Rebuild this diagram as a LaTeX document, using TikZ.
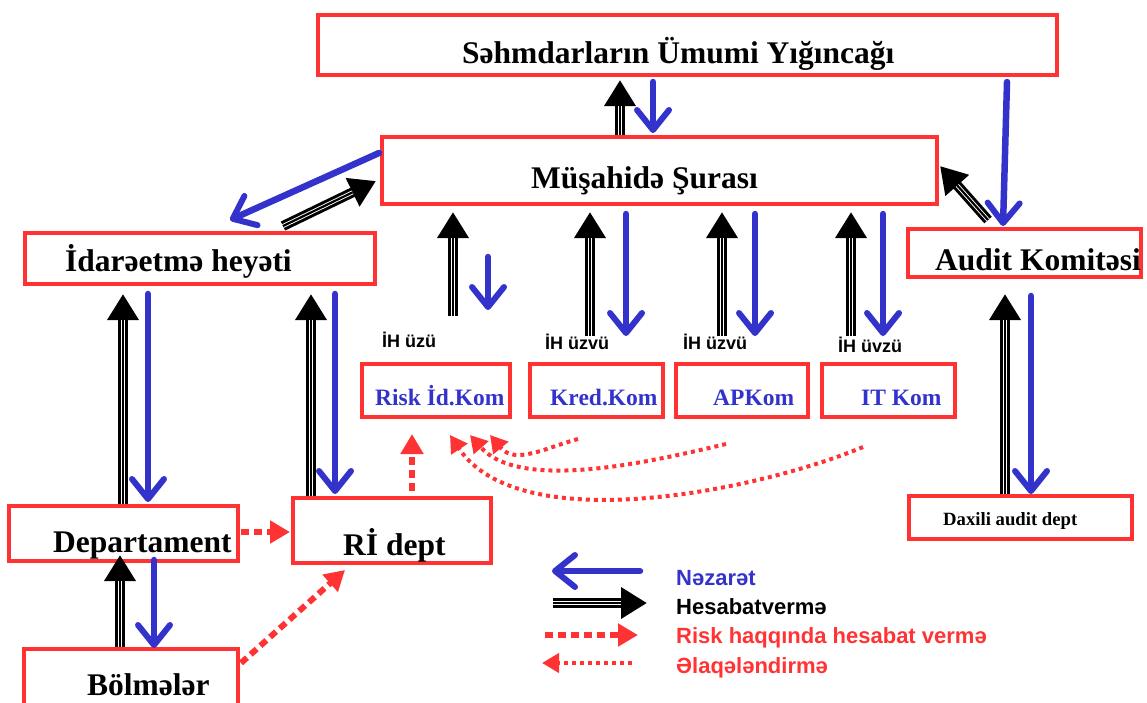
\documentclass[tikz,border=0pt]{standalone}
\usepackage{fontspec}
\setmainfont{Liberation Serif}
\newfontfamily\arialf{Liberation Sans}
\usetikzlibrary{arrows.meta,calc}
\definecolor{rr}{HTML}{FF3333}
\definecolor{bb}{HTML}{3333CC}
\begin{document}
\begin{tikzpicture}[x=1pt,y=-1pt,
 box/.style={draw=rr, line width=4pt, inner sep=0pt, rectangle},
 big/.style={anchor=base west, inner sep=0pt, font=\fontsize{31.5}{36}\selectfont\bfseries},
 kom/.style={anchor=base west, inner sep=0pt, text=bb, font=\fontsize{23.5}{28}\selectfont\bfseries},
 ihl/.style={anchor=base west, inner sep=0pt, font=\arialf\fontsize{18}{22}\selectfont\bfseries},
 leg/.style={anchor=base west, inner sep=0pt, font=\arialf\fontsize{22}{26}\selectfont\bfseries},
 rep/.style={draw=black, line width=10pt, -{Triangle[length=26pt,width=30pt]},
   postaction={draw=white, line width=0.9pt, double=black, double distance=2.2pt, shorten >=26pt, arrows=-}},
 ctrl/.style={draw=bb, line width=6.5pt, line cap=round, -{Straight Barb[length=20pt,width=32pt,line width=6pt,round]}},
 riskar/.style={draw=rr, line width=6pt, dash pattern=on 8pt off 5pt, -{Triangle[length=20pt,width=22pt]}},
 coordar/.style={draw=rr, line width=4pt, dash pattern=on 4pt off 4pt, -{Triangle[length=17pt,width=19pt]}}
]
\useasboundingbox (0,0) rectangle (1147,702);

% boxes
\node[box, minimum width=739pt, minimum height=60pt] (sh) at (687.5,45) {};
\node[box, minimum width=555pt, minimum height=67pt] (ms) at (659.5,170.5) {};
\node[box, minimum width=350pt, minimum height=51pt] (ih) at (200,258.5) {};
\node[box, minimum width=233pt, minimum height=48pt] (ak) at (1024.5,253) {};
\node[box, minimum width=148pt, minimum height=53pt] (rk) at (436,390.5) {};
\node[box, minimum width=133pt, minimum height=53pt] (kk) at (596.5,390.5) {};
\node[box, minimum width=132pt, minimum height=53pt] (ap) at (742,390.5) {};
\node[box, minimum width=133pt, minimum height=53pt] (it) at (888.5,390.5) {};
\node[box, minimum width=229pt, minimum height=55pt] (dp) at (123.5,533.5) {};
\node[box, minimum width=198pt, minimum height=65pt] (rd) at (392,530.5) {};
\node[box, minimum width=214pt, minimum height=63pt] (bl) at (131,680.5) {};
\node[box, minimum width=223pt, minimum height=43pt] (da) at (1020.5,517.5) {};

% texts
\node[big] (tsh) at (462,63) {Səhmdarların Ümumi Yığıncağı};
\node[big] (tms) at (531,188) {Müşahidə Şurası};
\node[big] (tih) at (65,271) {İdarəetmə heyəti};
\node[big] (tak) at (935,270) {Audit Komitəsi};
\node[kom] (trk) at (375,405) {Risk İd.Kom};
\node[kom] (tkk) at (550,405) {Kred.Kom};
\node[kom] (tap) at (713,405) {APKom};
\node[kom] (tit) at (861,405) {IT Kom};
\node[ihl] (ih1) at (382,347) {İH üzü};
\node[ihl] (ih2) at (545,349) {İH üzvü};
\node[ihl] (ih3) at (683,349) {İH üzvü};
\node[ihl] (ih4) at (838,352) {İH üvzü};
\node[big] (tdp) at (53,552) {Departament};
\node[big] (trd) at (343,555) {Rİ dept};
\node[big] (tbl) at (87,695) {Bölmələr};
\node[anchor=base west, inner sep=0pt, font=\fontsize{18.7}{22}\selectfont\bfseries] (tda) at (943,525) {Daxili audit dept};

% legend
\node[leg, text=bb] (lg1) at (676,585) {Nəzarət};
\node[leg] (lg2) at (676,614) {Hesabatvermə};
\node[leg, text=rr] (lg3) at (676,643) {Risk haqqında hesabat vermə};
\node[leg, text=rr] (lg4) at (676,673) {Əlaqələndirmə};

% sh <-> ms
\draw[rep] ($(ms.north west)+(240,0)$) -- ($(sh.south west)+(304,3)$);
\draw[ctrl] ($(sh.south west)+(337,5)$) -- ($(ms.north west)+(273,-2)$);
% ms <-> ih
\draw[ctrl] ($(ms.north west)+(-1,18)$) -- ($(ih.north west)+(207,-11)$);
\draw[rep] ($(ih.north west)+(260,-5)$) -- ($(ms.north west)+(-4,46)$);
% sh -> ak, ak -> ms
\draw[ctrl] ($(sh.south east)+(-52,5)$) -- ($(ak.north west)+(97,-1)$);
\draw[rep] ($(ak.north west)+(82,-7)$) -- ($(ms.north east)+(1,31)$);
% committees
\draw[rep] ($(rk.north west)+(93,-46)$) -- ($(ms.south west)+(73,6)$);
\draw[ctrl] ($(ms.south west)+(108,51)$) -- ($(rk.north west)+(128,-52)$);
\draw[rep] ($(kk.north west)+(62,-26)$) -- ($(ms.south west)+(210,6)$);
\draw[ctrl] ($(ms.south west)+(246,8)$) -- ($(kk.north west)+(98,-26)$);
\draw[rep] ($(ap.north west)+(48,-26)$) -- ($(ms.south west)+(342,6)$);
\draw[ctrl] ($(ms.south west)+(375,8)$) -- ($(ap.north west)+(81,-26)$);
\draw[rep] ($(it.north west)+(31,-26)$) -- ($(ms.south west)+(471,6)$);
\draw[ctrl] ($(ms.south west)+(503,8)$) -- ($(it.north west)+(63,-26)$);
% ih <-> dp, rd
\draw[rep] ($(dp.north west)+(116,0)$) -- ($(ih.south west)+(100,8)$);
\draw[ctrl] ($(ih.south west)+(125,8)$) -- ($(dp.north west)+(141,-2)$);
\draw[rep] ($(rd.north west)+(20,0)$) -- ($(ih.south west)+(288,8)$);
\draw[ctrl] ($(ih.south west)+(312,8)$) -- ($(rd.north west)+(44,-2)$);
% dp <-> bl
\draw[rep] ($(bl.north west)+(98,0)$) -- ($(dp.south west)+(113,-8)$);
\draw[ctrl] ($(dp.south west)+(147,-3)$) -- ($(bl.north west)+(132,1)$);
% ak <-> da
\draw[rep] ($(da.north west)+(98,0)$) -- ($(ak.south west)+(99,15)$);
\draw[ctrl] ($(ak.south west)+(125,17)$) -- ($(da.north west)+(124,0)$);
% risk reporting
\draw[riskar] ($(dp.east)+(1,-1.5)$) -- ($(rd.west)+(-1,1.5)$);
\draw[riskar] ($(bl.north west)+(219,16)$) -- ($(rd.south west)+(54,5)$);
\draw[riskar] ($(rd.north west)+(121,-5)$) -- ($(rk.south west)+(52,15)$);
% coordination
\coordinate (c1) at ($(kk.south west)+(50,20)$);
\coordinate (c2) at ($(ap.south west)+(52,25)$);
\coordinate (c3) at ($(it.south west)+(43,28)$);
\draw[coordar] (c1) .. controls (545,448) and (515,465) .. ($(rk.south west)+(130,16)$);
\draw[coordar] (c2) .. controls (650,462) and (520,492) .. ($(rk.south west)+(110,16)$);
\draw[coordar] (c3) .. controls (760,490) and (520,540) .. ($(rk.south west)+(90,16)$);
% legend arrows
\coordinate (l1a) at ($(lg1.base west)+(-36,-14)$);
\coordinate (l1b) at ($(lg1.base west)+(-124,-14)$);
\coordinate (l2a) at ($(lg2.base west)+(-123,-11)$);
\coordinate (l2b) at ($(lg2.base west)+(-29,-11)$);
\coordinate (l3a) at ($(lg3.base west)+(-131,-8)$);
\coordinate (l3b) at ($(lg3.base west)+(-38,-8)$);
\coordinate (l4a) at ($(lg4.base west)+(-44,-10)$);
\coordinate (l4b) at ($(lg4.base west)+(-134,-10)$);
\draw[ctrl] (l1a) -- (l1b);
\draw[rep] (l2a) -- (l2b);
\draw[riskar] (l3a) -- (l3b);
\draw[coordar] (l4a) -- (l4b);
\end{tikzpicture}
\end{document}
